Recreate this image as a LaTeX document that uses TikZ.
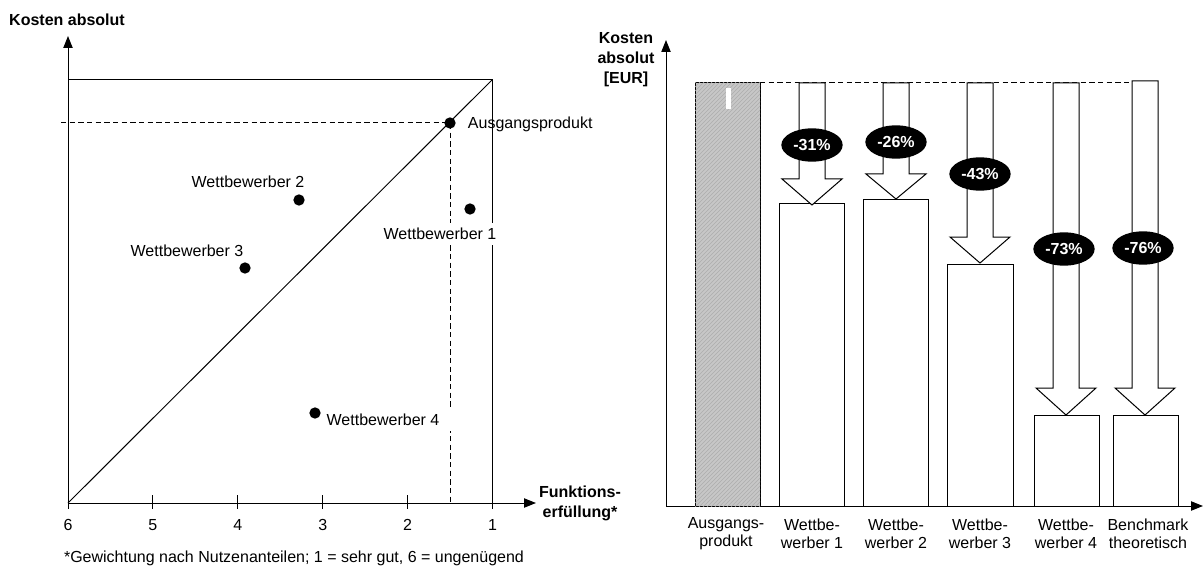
\documentclass[tikz,border=0pt]{standalone}
\usepackage{fontspec}
\setmainfont{Liberation Sans}
\usetikzlibrary{arrows.meta,shapes.geometric,positioning,patterns}

% block arrow: centre x, top, head base, tip
\newcommand{\cutarrow}[4]{%
  \draw[cut] ({#1-13},#2) -- ({#1+13},#2) -- ({#1+13},#3) -- ({#1+30},#3)
    -- (#1,#4) -- ({#1-30},#3) -- ({#1-13},#3) -- cycle;}

\begin{document}
\begin{tikzpicture}[x=0.75pt,y=-0.75pt,>={Triangle[length=9pt,width=7pt]},
    line width=0.75pt,font=\fontsize{12}{14}\selectfont,
    dot/.style={circle,fill,inner sep=0pt,minimum size=8.5pt},
    dot label/.style={fill=white,inner xsep=10pt,inner ysep=3.5pt},
    axis label/.style={font=\fontsize{12}{15}\selectfont\bfseries,align=center},
    cat label/.style={align=center,font=\fontsize{12}{13.5}\selectfont},
    pct/.style={ellipse,fill=black,text=white,inner sep=0pt,
                minimum width=46pt,minimum height=25pt,font=\fontsize{12}{14}\selectfont\bfseries},
    dashline/.style={dash pattern=on 4pt off 2.5pt},
    cut/.style={draw,fill=white,line join=miter},
    bar/.style={draw,fill=white}]

  \useasboundingbox (0,0) rectangle (1203,574);

  % left chart
  \coordinate (o) at (68,503);
  \coordinate (ytop) at (68,36);
  \coordinate (xend) at (536,503);
  \coordinate (tl) at (68,80);
  \coordinate (tr) at (492,80);
  \coordinate (br) at (492,503);

  \draw (tl) -- (tr) -- (br);
  \draw (o) -- (tr);
  \draw[->] (o) -- (ytop);
  \draw[->] (o) -- (xend);

  \foreach \v [count=\i from 0] in {6,5,4,3,2,1} {
    \coordinate (tick\v) at ({68+84.9*\i},503);
    \draw ([yshift=6pt]tick\v) -- ([yshift=-4.5pt]tick\v);
    \node (num\v) at ({68+84.9*\i},525) {\v};
  }

  \node[axis label] (kosten) at (67,20) {Kosten absolut};
  \node[axis label] (funktion) at (580,503) {Funktions-\\erfüllung*};
  \node (note) at (294,558) {*Gewichtung nach Nutzenanteilen; 1 = sehr gut, 6 = ungenügend};

  \coordinate (apy) at (61,123);
  \coordinate (apx) at (450,503);
  \coordinate (ap) at (450,123);
  \draw[dashline] (apy) -- (ap) -- (apx);

  \coordinate (w1) at (470,209);
  \coordinate (w2) at (299,200);
  \coordinate (w3) at (245,268);
  \coordinate (w4) at (315,413);

  \node[anchor=west] (aptext) at ([shift={(13,1)}]ap) {Ausgangsprodukt};
  \node[dot label] (w1text) at ([shift={(-30,25)}]w1) {Wettbewerber 1};
  \node[dot label] (w2text) at ([shift={(-51,-18)}]w2) {Wettbewerber 2};
  \node[dot label] (w3text) at ([shift={(-58,-17)}]w3) {Wettbewerber 3};
  \node[dot label] (w4text) at ([shift={(68,7)}]w4) {Wettbewerber 4};

  \foreach \p in {ap,w1,w2,w3,w4}
    \node[dot] (\p dot) at (\p) {};

  % right chart
  \coordinate (ro) at (666,506);
  \coordinate (rytop) at (666,40);
  \coordinate (rxend) at (1203,506);
  \draw[->] (ro) -- (rytop);
  \draw[->] (ro) -- (rxend);

  \node[axis label] (kosten2) at (626,60) {Kosten\\absolut\\{[EUR]}};

  \coordinate (base0) at (760,83);
  \coordinate (base1) at (1133,83);
  \draw[dashline] (base0) -- (base1);

  \draw[fill=black!22,postaction={pattern=north east lines,pattern color=black!32}]
    (695,83) rectangle (760,506);
  \fill[white] (726,88) rectangle (731,109);

  \draw[bar] (779,204) rectangle (844,506);
  \draw[bar] (863,200) rectangle (928,506);
  \draw[bar] (947,264) rectangle (1013,506);
  \draw[bar] (1034,415) rectangle (1099,506);
  \draw[bar] (1113,415) rectangle (1178,506);

  \cutarrow{812}{83}{179}{205}
  \cutarrow{896}{83}{174}{199}
  \cutarrow{980}{83}{237}{263}
  \cutarrow{1066}{83}{388}{415}
  \cutarrow{1145}{81}{388}{415}

  \node[pct] (p1) at (812,145) {-31\%};
  \node[pct] (p2) at (896,142) {-26\%};
  \node[pct] (p3) at (980,174) {-43\%};
  \node[pct] (p4) at (1064,249) {-73\%};
  \node[pct] (p5) at (1143,248) {-76\%};

  \node[cat label] (c1) at (726,534) {Ausgangs-\\produkt};
  \node[cat label] (c2) at (812,534) {Wettbe-\\werber 1};
  \node[cat label] (c3) at (896,534) {Wettbe-\\werber 2};
  \node[cat label] (c4) at (980,534) {Wettbe-\\werber 3};
  \node[cat label] (c5) at (1066,534) {Wettbe-\\werber 4};
  \node[cat label] (c6) at (1148,534) {Benchmark\\theoretisch};
\end{tikzpicture}
\end{document}
